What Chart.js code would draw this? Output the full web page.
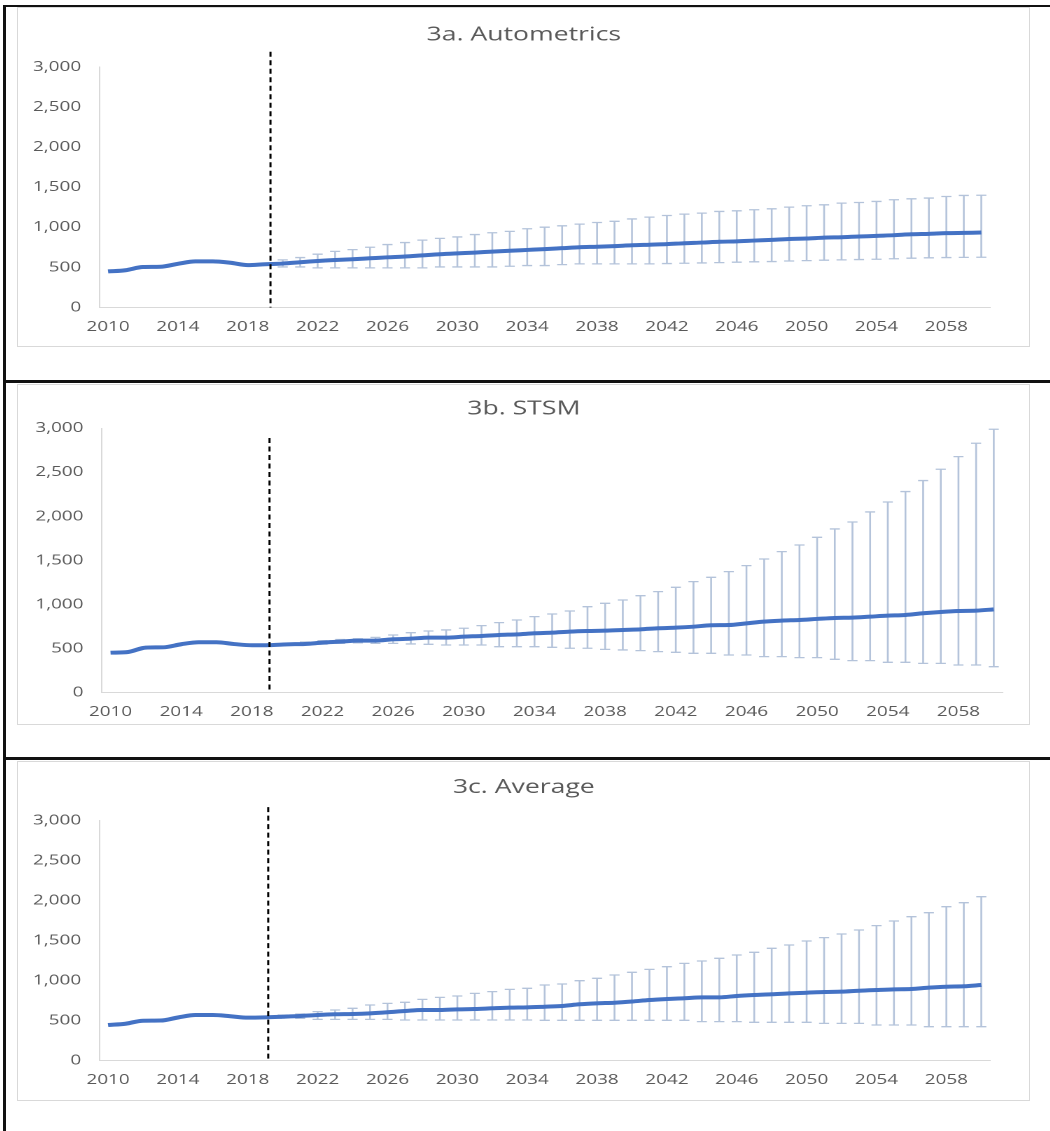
<!DOCTYPE html>
<html>
<head>
<meta charset="utf-8">
<script src="https://cdn.jsdelivr.net/npm/chart.js@4.4.1/dist/chart.umd.min.js"></script>
<style>
  body { margin: 0; background: #fff; width: 1050px; height: 1131px; position: relative; overflow: hidden; }
  .rule { position: absolute; background: #111; }
  .frame { position: absolute; left: 17px; width: 1011px; border: 1px solid #d9d9d9; }
  .wrap { position: absolute; left: 17px; transform: scaleX(1.4); transform-origin: 0 0; }
</style>
</head>
<body>
<div class="rule" style="left:3px;top:5px;width:1047px;height:2px"></div>
<div class="rule" style="left:3px;top:380px;width:1047px;height:3px"></div>
<div class="rule" style="left:3px;top:757px;width:1047px;height:3px"></div>
<div class="rule" style="left:3px;top:5px;width:3px;height:1126px"></div>

<div class="frame" style="top:7px;height:338px"></div>
<div class="frame" style="top:384px;height:339px"></div>
<div class="frame" style="top:761px;height:338px"></div>

<div class="wrap" style="top:7px"><canvas id="c1" width="724" height="340"></canvas></div>
<div class="wrap" style="top:384px"><canvas id="c2" width="724" height="341"></canvas></div>
<div class="wrap" style="top:761px"><canvas id="c3" width="724" height="340"></canvas></div>

<script>
// categories
const years = ['2010','2011','2012','2013','2014','2015','2016','2017','2018','2019',
  '2020','2021','2022','2023','2024','2025','2026','2027','2028','2029',
  '2030','2031','2032','2033','2034','2035','2036','2037','2038','2039',
  '2040','2041','2042','2043','2044','2045','2046','2047','2048','2049',
  '2050','2051','2052','2053','2054','2055','2056','2057','2058','2059','2060'];

const yTicks = [0, 500, 1000, 1500, 2000, 2500, 3000];

// 3a. Autometrics
const autoValues = [450,465,505,508,545,575,575,558,528,540,
  548,565,580,592,602,614,626,636,650,664,675,685,697,708,718,728,740,752,758,766,
  776,783,790,802,810,820,825,835,844,855,860,872,877,885,894,902,913,919,927,931,935];
const autoLow = [null,null,null,null,null,null,null,null,null,null,
  506,506,494,494,494,494,494,494,494,506,506,506,506,515,523,523,535,544,544,544,
  544,544,548,552,556,560,565,570,573,580,585,590,594,598,602,608,615,620,623,625,627];
const autoHigh = [null,null,null,null,null,null,null,null,null,null,
  594,623,665,700,722,752,785,810,840,862,880,910,932,950,982,1002,1019,1040,1060,1075,
  1105,1127,1148,1165,1177,1198,1206,1219,1231,1252,1269,1281,1302,1310,1323,1344,1356,1365,1385,1398,1400];

// 3b. STSM
const stsmValues = [454,462,512,515,550,572,572,552,538,540,
  549,553,568,579,591,591,606,613,625,625,636,644,655,662,674,681,693,700,704,712,
  719,731,738,749,765,768,787,806,818,825,837,848,852,863,874,882,901,916,927,931,946];
const stsmLow = [null,null,null,null,null,null,null,null,null,null,
  540,545,552,560,565,560,560,553,549,541,541,541,522,522,522,515,504,504,492,485,
  477,466,458,447,447,428,428,409,409,398,398,379,364,364,345,345,333,333,314,314,295];
const stsmHigh = [null,null,null,null,null,null,null,null,null,null,
  560,575,590,603,612,628,655,681,700,712,731,761,795,825,863,893,927,976,1014,1052,
  1101,1147,1196,1260,1309,1374,1442,1517,1601,1676,1763,1858,1937,2051,2164,2282,2407,2535,2679,2830,2989];

// 3c. Average
const avgValues = [446,462,500,502,540,571,571,556,538,542,
  550,559,571,580,584,592,605,621,634,634,642,646,655,663,667,675,684,705,717,725,
  740,759,771,780,792,792,809,821,830,842,850,859,863,875,884,892,896,913,925,930,946];
const avgLow = [null,null,null,null,null,null,null,null,null,null,
  535,530,517,517,517,517,517,509,509,509,509,509,509,509,509,505,505,505,505,505,
  505,505,505,505,488,488,488,480,480,480,480,467,467,467,446,446,446,425,425,425,425];
const avgHigh = [null,null,null,null,null,null,null,null,null,null,
  571,584,613,634,655,696,717,730,767,792,809,842,863,892,905,946,959,1000,1030,1071,
  1105,1142,1175,1217,1246,1280,1321,1355,1405,1446,1496,1538,1584,1634,1688,1746,1800,1850,1925,1975,2050];

// forecast divider (category index) and how high it reaches
const dividerAt = [9.3, 9.0, 9.17];
const dividerTop = [3190, 2890, 3170];

const gray = '#595959';
const font = 'Open Sans';

function extrasPlugin(low, high, split, splitTop) {
  return {
    id: 'extras',
    beforeDatasetsDraw(chart) {
      const { ctx, scales: { x, y } } = chart;
      ctx.save();
      ctx.strokeStyle = '#b4c3da';
      ctx.lineWidth = 1.3;
      low.forEach((lo, i) => {
        const hi = high[i];
        if (lo == null || hi == null) return;
        const px = x.getPixelForValue(i);
        const y1 = y.getPixelForValue(lo);
        const y2 = y.getPixelForValue(hi);
        ctx.beginPath();
        ctx.moveTo(px, y1); ctx.lineTo(px, y2);
        ctx.moveTo(px - 3.6, y1); ctx.lineTo(px + 3.6, y1);
        ctx.moveTo(px - 3.6, y2); ctx.lineTo(px + 3.6, y2);
        ctx.stroke();
      });
      ctx.restore();
    },
    afterDatasetsDraw(chart) {
      const { ctx, scales: { x, y } } = chart;
      const px = x.getPixelForValue(split);
      ctx.save();
      ctx.strokeStyle = '#000';
      ctx.lineWidth = 1.5;
      ctx.setLineDash([5, 3.5]);
      ctx.beginPath();
      ctx.moveTo(px, y.getPixelForValue(splitTop));
      ctx.lineTo(px, y.getPixelForValue(0));
      ctx.stroke();
      ctx.restore();
    }
  };
}

function makeChart(id, title, values, low, high, n, box) {
  const ctx = document.getElementById(id).getContext('2d');
  return new Chart(ctx, {
    type: 'line',
    data: {
      labels: years,
      datasets: [{
        data: values,
        borderColor: '#4472c4',
        borderWidth: 4,
        pointRadius: 0,
        cubicInterpolationMode: 'monotone',
        fill: false
      }]
    },
    options: {
      responsive: false,
      devicePixelRatio: 2,
      animation: false,
      layout: { padding: 0 },
      plugins: {
        legend: { display: false },
        tooltip: { enabled: false },
        title: {
          display: true,
          text: title,
          color: gray,
          font: { family: font, size: 19, weight: 'normal', lineHeight: 1.2 },
          padding: { top: box.titleTop, bottom: box.titleBottom }
        }
      },
      scales: {
        x: {
          offset: true,
          grid: { display: false, drawTicks: false },
          border: { display: true, color: '#d9d9d9', width: 1 },
          ticks: {
            autoSkip: false,
            maxRotation: 0,
            minRotation: 0,
            padding: 11.5,
            color: gray,
            font: { family: font, size: 13.5 },
            callback: (v, i) => (i % 4 === 0 ? years[i] : '')
          },
          afterFit: s => { s.height = box.xHeight; s.paddingRight = box.right; }
        },
        y: {
          min: 0,
          max: 3000,
          afterBuildTicks: s => { s.ticks = yTicks.map(v => ({ value: v })); },
          grid: { display: false, drawTicks: false },
          border: { display: true, color: '#d9d9d9', width: 1 },
          ticks: {
            padding: 13,
            color: gray,
            font: { family: font, size: 13.5 },
            callback: v => v.toLocaleString('en-US')
          },
          afterFit: s => { s.width = box.yWidth; }
        }
      }
    },
    plugins: [extrasPlugin(low, high, dividerAt[n], dividerTop[n])]
  });
}

makeChart('c1', '3a. Autometrics', autoValues, autoLow, autoHigh, 0,
  { titleTop: 16.6, titleBottom: 20.6, xHeight: 39.5, yWidth: 58.8, right: 29 });
makeChart('c2', '3b. STSM', stsmValues, stsmLow, stsmHigh, 1,
  { titleTop: 13.6, titleBottom: 7.9, xHeight: 32.3, yWidth: 60.5, right: 20 });
makeChart('c3', '3c. Average', avgValues, avgLow, avgHigh, 2,
  { titleTop: 15.1, titleBottom: 21.8, xHeight: 40.3, yWidth: 58.8, right: 29 });
</script>
</body>
</html>
